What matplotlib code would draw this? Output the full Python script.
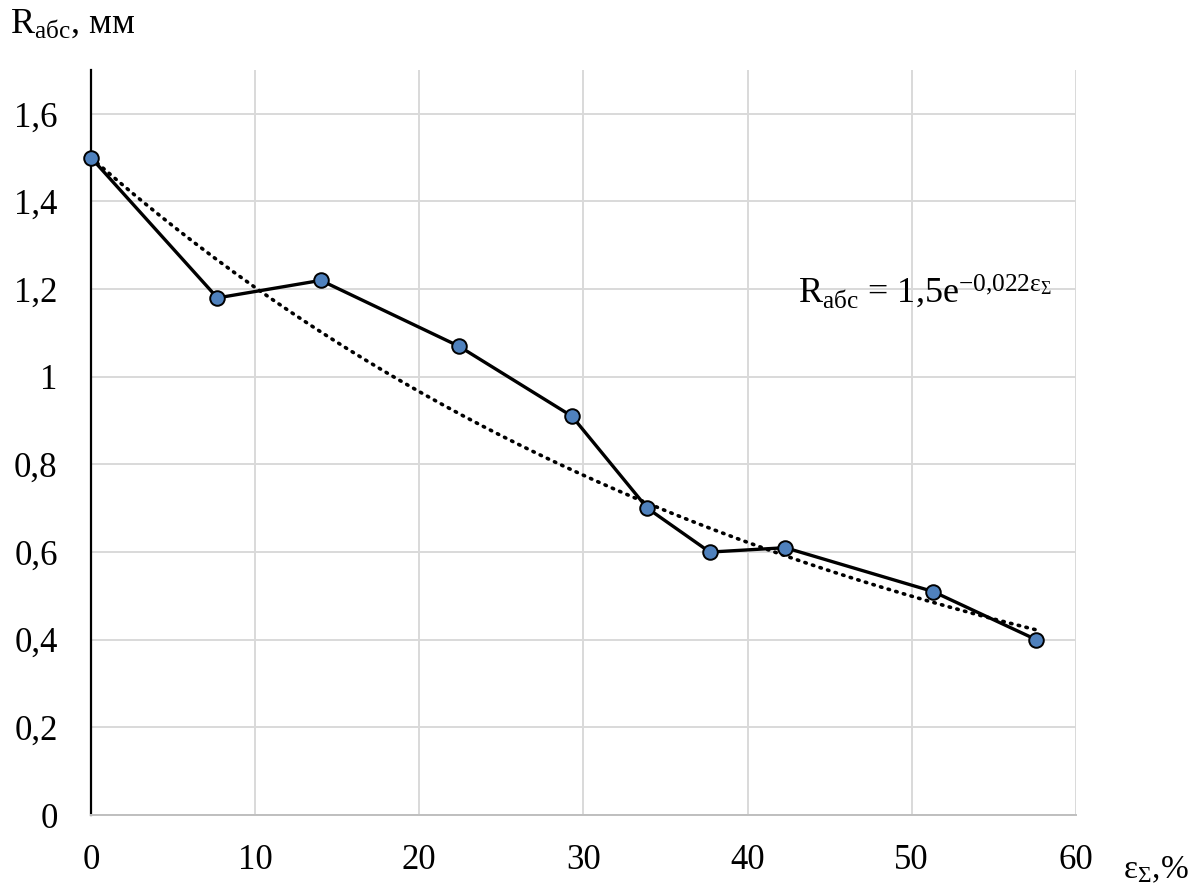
import numpy as np
import matplotlib
matplotlib.use("Agg")
import matplotlib.pyplot as plt

plt.rcParams['font.family'] = ['Liberation Serif', 'DejaVu Serif']
plt.rcParams['mathtext.fontset'] = 'custom'
plt.rcParams['mathtext.rm'] = 'Liberation Serif'
plt.rcParams['mathtext.it'] = 'Liberation Serif:italic'

# data
eps = [0, 7.7, 14.0, 22.4, 29.3, 33.9, 37.7, 42.3, 51.3, 57.6]
r_abs = [1.5, 1.18, 1.22, 1.07, 0.91, 0.70, 0.60, 0.61, 0.51, 0.40]
# trend line as printed on the chart: R = 1.5 exp(-0.022 eps)
a_fit, b_fit = 1.5, -0.022

x_ticks = [0, 10, 20, 30, 40, 50, 60]
y_ticks = [0, 0.2, 0.4, 0.6, 0.8, 1.0, 1.2, 1.4, 1.6]
y_labels = ['0', '0,2', '0,4', '0,6', '0,8', '1', '1,2', '1,4', '1,6']

fig = plt.figure(figsize=(11.98, 8.92), dpi=100)
ax = fig.add_axes([0.076, 0.0863, 0.822, 0.8352])

ax.set_xlim(0, 60)
ax.set_ylim(0, 1.7)
ax.set_xticks(x_ticks)
ax.set_xticklabels([str(t) for t in x_ticks])
ax.set_yticks(y_ticks)
ax.set_yticklabels(y_labels)
ax.tick_params(length=0, labelsize=25)
ax.tick_params(axis='y', pad=24)
ax.tick_params(axis='x', pad=21)
ax.grid(True, color='#d9d9d9', lw=1.4)
ax.set_axisbelow(True)
for s in ['top', 'right']:
    ax.spines[s].set_visible(False)
ax.spines['bottom'].set_color('#bfbfbf')
ax.spines['bottom'].set_linewidth(1.4)
ax.spines['left'].set_color('black')
ax.spines['left'].set_linewidth(1.6)

xt = np.linspace(eps[0], eps[-1], 200)
ax.plot(xt, a_fit * np.exp(b_fit * xt), color='black', lw=2.6,
        linestyle=(0, (0.4, 1.8)), dash_capstyle='round', zorder=3)
ax.plot(eps, r_abs, color='black', lw=2.4, marker='o', ms=10.5,
        mfc='#4f81bd', mec='black', mew=1.4, zorder=4, clip_on=False)

fig.text(0.008, 0.963, 'R$_{\\mathrm{абс}}$, мм', fontsize=26, va='baseline')
fig.text(0.937, 0.015, 'ε$_{\\mathrm{Σ}}$,%', fontsize=24, va='baseline')
ax.text(43.1, 1.17, 'R$_{\\mathrm{абс}}$ = 1,5e$^{\\mathrm{-0{,}022ε}_{\\mathrm{Σ}}}$',
        fontsize=26, va='baseline')

fig.savefig('out.png', dpi=100)
